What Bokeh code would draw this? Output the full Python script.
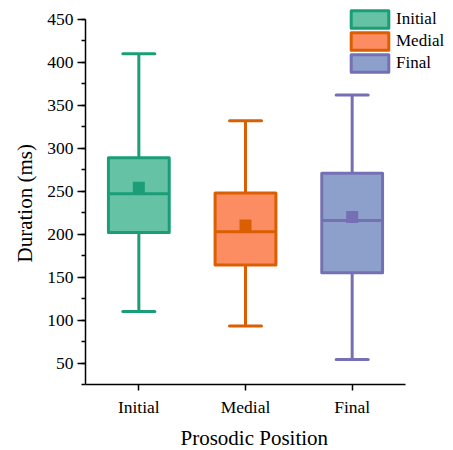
from bokeh.plotting import figure
from bokeh.models import Range1d, SingleIntervalTicker, FixedTicker, Legend, LegendItem, ColumnDataSource, Title
from bokeh.embed import file_html
from bokeh.resources import INLINE

categories = ["Initial", "Medial", "Final"]
lower_whisker = [110, 93, 54]
q1 = [202, 164, 155]
median = [247, 203, 216]
q3 = [289, 248, 271]
upper_whisker = [410, 332, 362]
mean = [254, 210, 220]
fill_colors = ["#66c2a5", "#fc8d62", "#8da0cb"]
line_colors = ["#1b9e77", "#d95f02", "#7570b3"]

FONT = "Liberation Serif"
BOX_W = 0.57
CAP_HALF = 0.15

positions = [i + 1 for i in range(len(categories))]

# frame spans x 85..453 and y 0..384 so the legend (which sits above the axis top) is not clipped
FRAME_W, FRAME_H = 368, 384
px_per_x = 320 / 3.0
units_per_px_y = 425 / 365.0
x_end = 0.5 + FRAME_W / px_per_x
y_end = 25 + FRAME_H * units_per_px_y

p = figure(x_range=Range1d(0.5, x_end), y_range=Range1d(25, y_end),
           frame_width=FRAME_W, frame_height=FRAME_H,
           width=453, height=450,
           min_border_left=85, min_border_right=0, min_border_top=0, min_border_bottom=66,
           output_backend="svg", toolbar_location=None)
p.outline_line_color = None
p.xgrid.visible = False
p.ygrid.visible = False

items = []
for i, c in enumerate(categories):
    lc = line_colors[i]
    fc = fill_colors[i]
    x = positions[i]
    src = ColumnDataSource(dict(
        x=[x], lo=[lower_whisker[i]], hi=[upper_whisker[i]], q1=[q1[i]], q3=[q3[i]],
        med=[median[i]], mean=[mean[i]],
        xl=[x - BOX_W / 2], xr=[x + BOX_W / 2],
        cl=[x - CAP_HALF], cr=[x + CAP_HALF],
    ))
    p.segment(x0="x", y0="lo", x1="x", y1="hi", source=src, line_color=lc, line_width=3)
    p.segment(x0="cl", y0="hi", x1="cr", y1="hi", source=src, line_color=lc, line_width=3, line_cap="round")
    p.segment(x0="cl", y0="lo", x1="cr", y1="lo", source=src, line_color=lc, line_width=3, line_cap="round")
    box = p.vbar(x="x", width=BOX_W, bottom="q1", top="q3", source=src,
                 fill_color=fc, line_color=lc, line_width=3, line_join="round")
    p.segment(x0="xl", y0="med", x1="xr", y1="med", source=src, line_color=lc, line_width=3)
    p.scatter(x="x", y="mean", source=src, marker="square", size=12, fill_color=lc, line_color=lc, line_width=0)
    items.append(LegendItem(label=c, renderers=[box]))

legend = Legend(items=items, location=(261, 310), padding=0, margin=0, spacing=0,
                glyph_width=47, glyph_height=22, label_height=20, label_standoff=3,
                border_line_alpha=0, background_fill_alpha=0,
                label_text_font=FONT, label_text_font_size="17px", label_text_color="black")
p.add_layout(legend, "center")

# Axes
p.yaxis.ticker = SingleIntervalTicker(interval=50, num_minor_ticks=2)
p.yaxis.bounds = (25, 450)
p.xaxis.ticker = FixedTicker(ticks=positions)
p.xaxis.major_label_overrides = {pos: c for pos, c in zip(positions, categories)}
p.xaxis.bounds = (0.5, 3.5)
p.xaxis.minor_tick_line_color = None

for ax in (p.xaxis[0], p.yaxis[0]):
    ax.axis_line_color = "black"
    ax.axis_line_width = 1.5
    ax.major_tick_line_color = "black"
    ax.major_tick_line_width = 1.5
    ax.major_tick_in = 0
    ax.minor_tick_in = 0
    ax.major_label_text_font = FONT
    ax.major_label_text_font_size = "17.5px"
    ax.major_label_text_color = "black"

p.yaxis.minor_tick_line_color = "black"
p.yaxis.minor_tick_line_width = 1.5
p.yaxis.major_tick_out = 8
p.yaxis.minor_tick_out = 4
p.yaxis.major_label_standoff = 4

p.xaxis.major_tick_out = 6
p.xaxis.major_label_standoff = 6

# axis titles, positioned to sit centred on the axis lines (not on the wider frame)
y_title = Title(text="Duration (ms)", align="left", offset=122, standoff=15,
                text_font=FONT, text_font_size="21px", text_font_style="normal", text_color="black")
x_title = Title(text="Prosodic Position", align="left", offset=95, standoff=8,
                text_font=FONT, text_font_size="21px", text_font_style="normal", text_color="black")
p.add_layout(y_title, "left")
p.add_layout(x_title, "below")

open("out.html", "w").write(file_html(p, INLINE))
